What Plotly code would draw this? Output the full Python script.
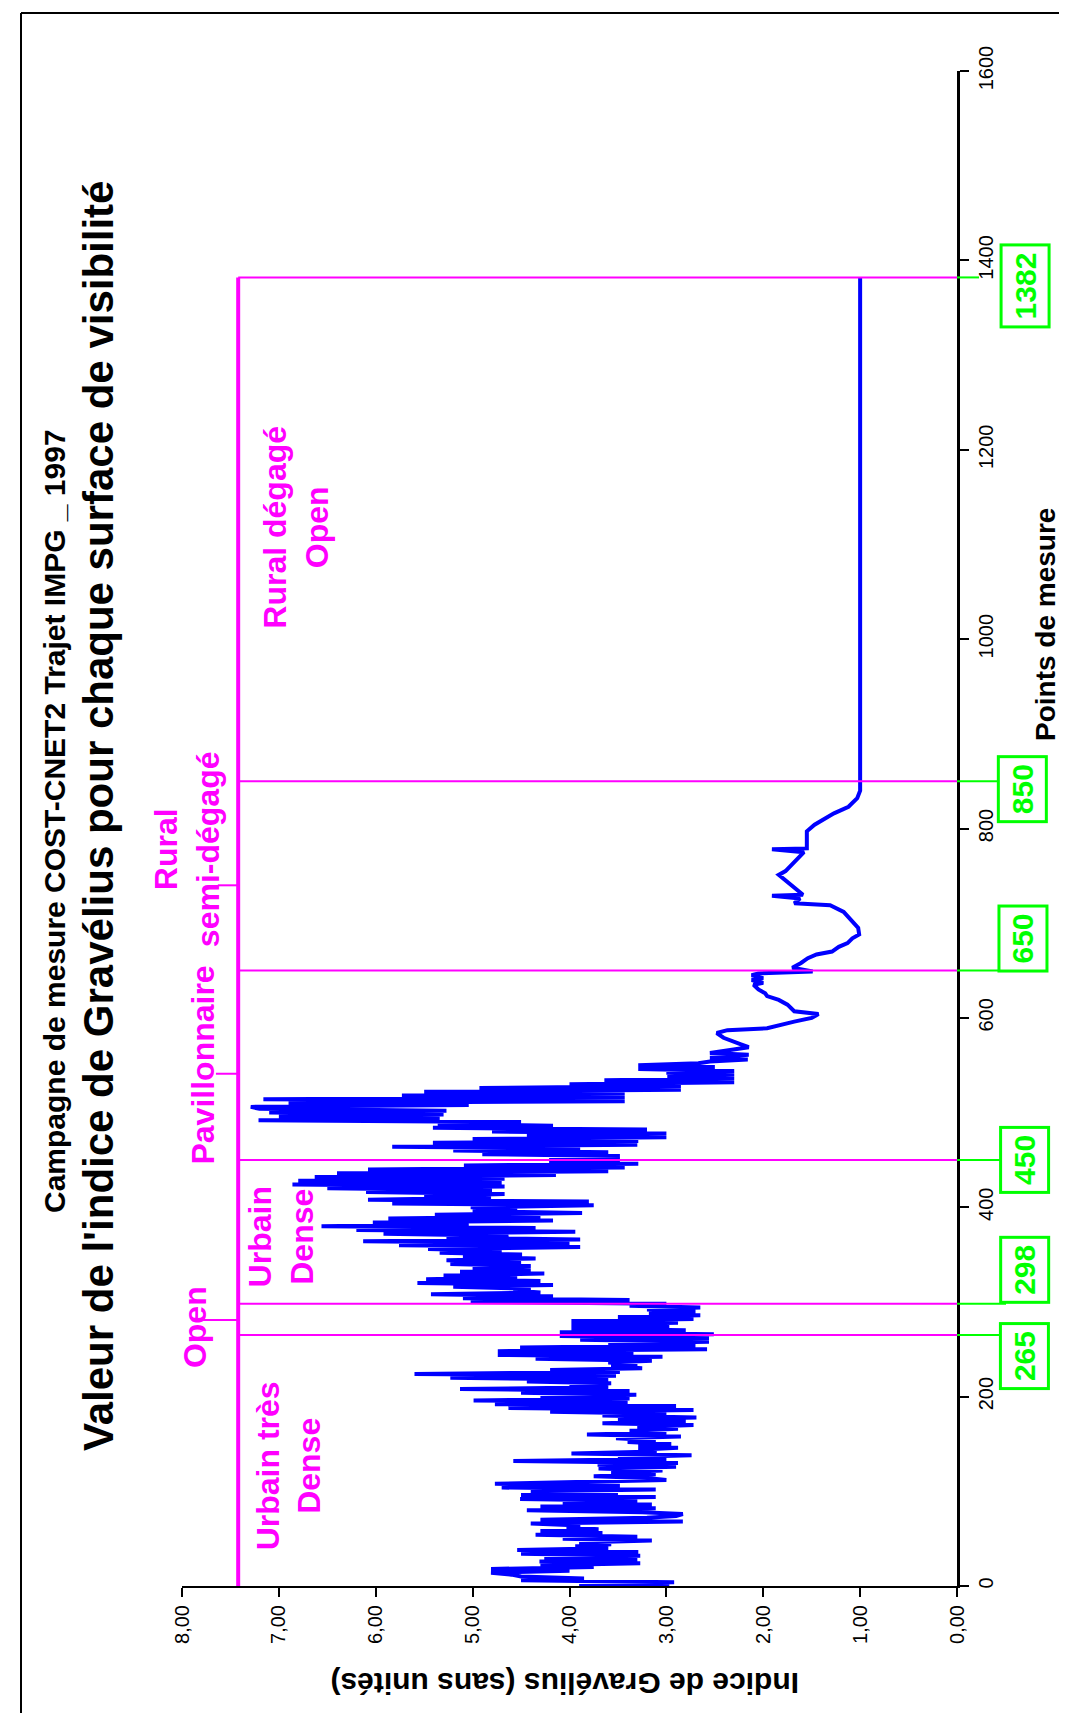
import plotly.graph_objects as go

# ---------------- data ----------------
dense_vals = [
    2.97, 3.90, 2.92, 4.50, 3.85, 4.50, 4.60, 4.81, 4.00, 4.81,
    3.75, 4.30, 3.27, 4.31, 3.30, 4.26, 3.27, 4.50, 3.29, 4.54,
    3.60, 3.94, 3.57, 3.90, 3.15, 4.07, 3.30, 4.35, 3.66, 4.30,
    3.70, 4.03, 3.89, 4.40, 2.83, 4.30, 3.20, 2.90, 2.83, 3.25,
    4.44, 3.11, 4.30, 3.15, 4.07, 3.30, 4.51, 3.11, 4.50, 3.50,
    4.40, 3.11, 4.70, 3.48, 4.77, 3.57, 3.00, 3.20, 3.75, 3.11,
    3.57, 3.04, 3.70, 2.90, 3.71, 2.88, 4.58, 3.00, 3.50, 2.74,
    3.98, 3.10, 3.29, 2.88, 3.29, 2.95, 3.40, 3.11, 3.52, 2.85,
    3.82, 3.00, 3.38, 2.88, 3.30, 2.72, 3.66, 2.80, 3.50, 2.69,
    3.66, 3.00, 4.20, 2.72, 4.63, 2.90, 4.77, 3.40, 4.99, 3.38,
    4.30, 3.31, 4.50, 3.38, 5.13, 3.60, 4.00, 3.57, 4.44, 3.60,
    5.23, 3.52, 5.60, 3.48, 4.20, 3.25, 3.57, 3.30, 3.60, 3.15,
    4.35, 3.04, 4.74, 3.34, 4.74, 2.58, 4.51, 2.70, 3.60, 2.56,
    3.89, 2.56, 4.10, 2.51, 4.10, 2.80, 3.98, 2.97, 3.98, 2.88,
    3.98, 2.72, 3.50, 2.65, 3.18, 2.70, 3.20, 2.65, 3.38, 3.00,
    5.02, 3.38, 5.10, 4.17, 5.43, 4.30, 4.58, 4.40, 5.20, 4.17,
    5.57, 4.30, 5.48, 4.54, 5.30, 4.26, 5.13, 4.40, 5.00, 4.40,
    5.23, 4.50, 5.27, 4.35, 5.10, 4.49, 5.34, 4.70, 5.46, 3.89,
    5.76, 4.00, 6.13, 3.89, 5.27, 4.63, 5.92, 3.94, 6.20, 4.35,
    6.56, 5.04, 6.03, 4.17, 5.87, 4.30, 5.39, 3.87, 5.00, 4.54,
    5.02, 3.75, 5.83, 3.80, 6.08, 4.81, 5.50, 4.67, 6.10, 4.80,
    6.50, 4.67, 6.86, 4.70, 6.80, 4.67, 6.63, 4.14, 6.40, 3.60,
    6.08, 3.43, 5.09, 3.29, 4.21, 3.48, 4.21, 3.48, 4.90, 3.60,
    5.20, 3.89, 5.83, 3.30, 5.41, 3.29, 5.00, 3.00, 4.44, 3.00,
    4.80, 3.20, 5.41, 4.17, 5.36, 4.50, 7.21, 5.34, 7.00, 5.30,
    7.10, 5.27, 7.20, 7.29, 5.04, 6.90, 3.43, 7.16, 3.43, 5.73,
    3.43, 5.50, 2.85, 4.93, 2.85, 4.00, 2.30, 3.64, 2.30, 2.99,
    2.30, 3.00, 2.30, 3.29, 2.50, 3.29, 2.67, 2.55, 2.16, 2.55,
]
dense_pts = list(range(0, 2 * len(dense_vals), 2))

sparse_pts = [561, 563, 566, 569, 572, 575, 579, 584, 587, 589,
              593, 596, 600, 604, 607, 614, 619, 623, 626, 630,
              635, 637, 640, 642, 645, 647, 649, 653, 658, 663,
              667, 670, 675, 679, 684, 688, 695, 702, 712, 719,
              721, 726, 729, 730, 735, 741, 746, 751, 755, 762,
              769, 775, 778, 779, 790, 797, 804, 809, 816, 823,
              832, 840, 850, 1382]
sparse_vals = [2.15, 2.55, 2.37, 2.15, 2.23, 2.32, 2.41, 2.48, 2.37, 1.96,
               1.82, 1.68, 1.50, 1.43, 1.68, 1.75, 1.84, 1.96, 1.98, 2.05,
               2.10, 2.00, 2.12, 2.00, 2.12, 2.05, 1.49, 1.70, 1.61, 1.54,
               1.45, 1.29, 1.22, 1.13, 1.08, 1.01, 1.02, 1.08, 1.17, 1.31,
               1.68, 1.62, 1.91, 1.59, 1.65, 1.73, 1.78, 1.84, 1.77, 1.70,
               1.63, 1.58, 1.91, 1.55, 1.55, 1.55, 1.47, 1.38, 1.27, 1.12,
               1.03, 1.00, 1.00, 1.00]

boundaries = [265, 298, 450, 650, 850, 1382]
boundary_labels = ["265", "298", "450", "650", "850", "1382"]

zone_names = ["Urbain très<br>Dense", "Open", "Urbain<br>Dense", "Pavillonnaire",
              "Rural<br>semi-dégagé", "Rural dégagé<br>Open"]
zone_label_pts = [127, 273, 369, 550, 778, 1118]
zone_tick_pts = [281, 541, 740]

x_ticks = [0, 1, 2, 3, 4, 5, 6, 7, 8]
x_ticktext = ["0,00", "1,00", "2,00", "3,00", "4,00", "5,00", "6,00", "7,00", "8,00"]
y_ticks = [0, 200, 400, 600, 800, 1000, 1200, 1400, 1600]

title_main = "Valeur de l'indice de Gravélius pour chaque surface de visibilité"
title_sub = "Campagne de mesure COST-CNET2 Trajet IMPG _ 1997"
xaxis_title = "Indice de Gravélius (sans unités)"
yaxis_title = "Points de mesure"

# ---------------- layout geometry (pixels) ----------------
W, H = 1067, 1713
PL, PR, PT, PB = 174, 949, 63, 1578   # plot area edges


def px(xpix):
    return (xpix - PL) / (PR - PL)


def py(ypix):
    return (PB - ypix) / (PB - PT)


MAGENTA = "#FF00FF"
GREEN = "#00FF00"
BLUE = "#0000FF"
SANS = "Liberation Sans, Arial, sans-serif"

fig = go.Figure()
fig.add_trace(go.Scatter(
    x=dense_vals + sparse_vals,
    y=dense_pts + sparse_pts,
    mode="lines",
    line=dict(color=BLUE, width=4),
    hoverinfo="skip",
))

shapes = []
left_x = 7.42
# left magenta vertical line
shapes.append(dict(type="line", xref="x", yref="y", x0=left_x, x1=left_x, y0=0, y1=boundaries[-1],
                   line=dict(color=MAGENTA, width=4)))
# magenta horizontal boundaries
for b in boundaries:
    shapes.append(dict(type="line", xref="x", yref="y", x0=left_x, x1=0, y0=b, y1=b,
                       line=dict(color=MAGENTA, width=2)))
# small zone ticks
tick_left = [7.79, 7.65, 7.63]
for t, xl in zip(zone_tick_pts, tick_left):
    shapes.append(dict(type="line", xref="x", yref="y", x0=xl, x1=left_x, y0=t, y1=t,
                       line=dict(color=MAGENTA, width=2)))
# green connectors
for b in boundaries:
    if b == boundaries[-1]:
        segs = [(PR, 971), (995, 1000)]
    else:
        segs = [(PR, 998)]
    for a, c in segs:
        shapes.append(dict(type="line", xref="paper", yref="y", x0=px(a), x1=px(c), y0=b, y1=b,
                           line=dict(color=GREEN, width=2)))
# outer frame (left and top)
shapes.append(dict(type="line", xref="paper", yref="paper", x0=px(13), x1=px(13), y0=py(5), y1=py(1713),
                   line=dict(color="black", width=2)))
shapes.append(dict(type="line", xref="paper", yref="paper", x0=px(13), x1=px(1067), y0=py(5), y1=py(5),
                   line=dict(color="black", width=2)))

annotations = []
# titles
annotations.append(dict(text=title_sub, xref="paper", yref="paper", x=px(46), y=py(813),
                        textangle=-90, showarrow=False, xanchor="center", yanchor="middle",
                        font=dict(family=SANS, size=30, color="black", weight="bold")))
annotations.append(dict(text=title_main, xref="paper", yref="paper", x=px(91), y=py(808),
                        textangle=-90, showarrow=False, xanchor="center", yanchor="middle",
                        font=dict(family=SANS, size=42, color="black", weight="bold")))
# axis titles
annotations.append(dict(text=xaxis_title, xref="paper", yref="paper", x=px(557), y=py(1676),
                        textangle=180, showarrow=False, xanchor="center", yanchor="middle",
                        font=dict(family=SANS, size=30, color="black", weight="bold")))
annotations.append(dict(text=yaxis_title, xref="paper", yref="paper", x=px(1037), y=py(617),
                        textangle=-90, showarrow=False, xanchor="center", yanchor="middle",
                        font=dict(family=SANS, size=28, color="black", weight="bold")))
# zone labels
zone_label_x = [6.90, 7.87, 6.98, 7.78, 7.94, 6.82]
for name, yv, xv in zip(zone_names, zone_label_pts, zone_label_x):
    annotations.append(dict(text=name, xref="x", yref="y", x=xv, y=yv, textangle=-90,
                            showarrow=False, xanchor="center", yanchor="middle", align="center",
                            font=dict(family=SANS, size=32, color=MAGENTA, weight="bold")))
# green boxes
box_shift = [-21, 34, 0, 32, -8, -8]
box_x = [1016, 1017, 1017, 1015, 1014, 1017]
for b, lab, sh, bx in zip(boundaries, boundary_labels, box_shift, box_x):
    annotations.append(dict(text=lab, xref="paper", yref="y", x=px(bx), y=b, yshift=sh,
                            textangle=-90, showarrow=False, xanchor="center", yanchor="middle",
                            bordercolor=GREEN, borderwidth=3, borderpad=6, bgcolor="white",
                            font=dict(family=SANS, size=30, color=GREEN, weight="bold")))

fig.update_layout(
    width=W, height=H,
    margin=dict(l=PL, r=W - PR, t=PT, b=H - PB, autoexpand=False),
    paper_bgcolor="white", plot_bgcolor="white",
    showlegend=False,
    shapes=shapes,
    annotations=annotations,
    xaxis=dict(range=[8, 0], tickmode="array", tickvals=x_ticks, ticktext=x_ticktext,
               tickangle=-90, ticks="outside", ticklen=9, tickwidth=2, tickcolor="black",
               showline=True, linewidth=2, linecolor="black", showgrid=False, zeroline=False,
               tickfont=dict(family=SANS, size=20, color="black")),
    yaxis=dict(range=[0, 1600], side="right", tickmode="array", tickvals=y_ticks,
               tickangle=-90, ticks="outside", ticklen=9, tickwidth=2, tickcolor="black",
               showline=True, linewidth=3, linecolor="black", showgrid=False, zeroline=False,
               tickfont=dict(family=SANS, size=20, color="black")),
)

fig.write_html("out.html")
